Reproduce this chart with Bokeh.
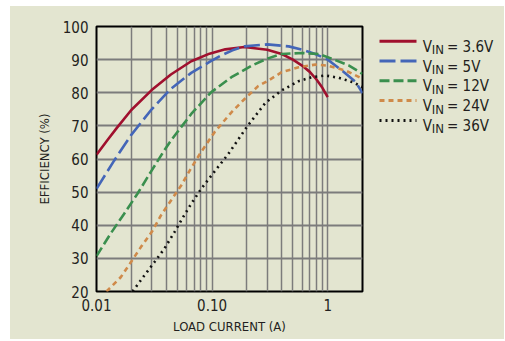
from bokeh.plotting import figure
from bokeh.layouts import row
from bokeh.models import Range1d, FixedTicker
from bokeh.core.properties import value
from bokeh.embed import file_html
from bokeh.resources import INLINE

# ---------------- data ----------------
vin_labels = ["3.6V", "5V", "12V", "24V", "36V"]

x_36 = [0.01, 0.0125, 0.015, 0.02, 0.03, 0.044, 0.066, 0.095, 0.13, 0.19, 0.3, 0.4, 0.5, 0.6, 0.7, 0.8, 0.9, 1.0]
y_36 = [61.3, 65.8, 69.4, 74.8, 80.8, 85.5, 89.5, 91.8, 93.1, 93.8, 93.0, 91.7, 90.0, 88.2, 86.3, 84.0, 81.5, 78.7]

x_5 = [0.01, 0.0142, 0.02, 0.03, 0.044, 0.066, 0.095, 0.12, 0.15, 0.19, 0.3, 0.46, 0.6, 0.78, 1.0, 1.33, 1.75, 2.0]
y_5 = [51.0, 59.5, 67.3, 75.0, 81.2, 86.0, 89.3, 91.3, 92.8, 94.0, 94.6, 94.0, 93.0, 91.7, 90.0, 86.7, 83.2, 79.9]

x_12 = [0.01, 0.0132, 0.0173, 0.0226, 0.0296, 0.0386, 0.0441, 0.066, 0.0985, 0.147, 0.22, 0.3, 0.4, 0.6, 0.84, 1.1, 1.53, 2.0]
y_12 = [30.7, 37.4, 43.4, 49.5, 56.2, 62.6, 65.6, 73.6, 80.2, 84.7, 88.2, 90.3, 91.7, 92.0, 91.7, 90.2, 88.2, 85.7]

x_24 = [0.0122, 0.0162, 0.0198, 0.0242, 0.0306, 0.036, 0.0441, 0.054, 0.066, 0.08, 0.105, 0.147, 0.192, 0.25, 0.3, 0.4, 0.56, 0.78, 1.0, 1.43, 2.0]
y_24 = [20.0, 24.3, 28.8, 33.4, 38.4, 42.9, 47.5, 52.0, 57.3, 62.0, 68.1, 74.1, 78.2, 82.0, 83.5, 86.2, 87.7, 88.5, 88.2, 86.7, 84.2]

x_36v = [0.0205, 0.0259, 0.0316, 0.0386, 0.0472, 0.056, 0.066, 0.0805, 0.0985, 0.138, 0.2, 0.29, 0.4, 0.56, 0.73, 0.96, 1.25, 1.65, 2.0]
y_36v = [20.0, 24.8, 28.8, 32.9, 37.9, 42.4, 46.5, 51.0, 55.0, 61.5, 69.7, 77.0, 80.7, 83.5, 84.7, 85.2, 84.5, 83.2, 81.7]

x_major_ticks = [0.01, 0.1, 1]
x_major_labels = ["0.01", "0.10", "1"]
x_minor_ticks = [0.02, 0.03, 0.04, 0.05, 0.06, 0.07, 0.08, 0.09,
                 0.2, 0.3, 0.4, 0.5, 0.6, 0.7, 0.8, 0.9, 2]
y_ticks = [20, 30, 40, 50, 60, 70, 80, 90, 100]

# ---------------- style ----------------
BG = "#e3e5d0"
FONT = "DejaVu Sans Condensed"
TXT = "#231f20"
GRID = "#7c7c7c"
series = [
    (x_36, y_36, "#a0102e", None, 2.6),
    (x_5, y_5, "#4466b8", "16 5", 2.6),
    (x_12, y_12, "#3a8f4e", "10 4", 2.6),
    (x_24, y_24, "#cf8a4a", "5 4", 2.6),
    (x_36v, y_36v, "#111111", "2 4", 2.6),
]

p = figure(title=None, x_axis_type="log", x_range=Range1d(0.01, 2.0), y_range=Range1d(20, 100),
           frame_width=266, frame_height=265,
           min_border_left=86, min_border_right=8, min_border_top=20, min_border_bottom=48,
           output_backend="svg", toolbar_location=None,
           background_fill_color=BG, border_fill_color=BG,
           outline_line_color="black", outline_line_width=2)

xt = FixedTicker(ticks=x_major_ticks, minor_ticks=x_minor_ticks)
p.xaxis.ticker = xt
p.xgrid.ticker = xt
p.xaxis.major_label_overrides = {t: s for t, s in zip(x_major_ticks, x_major_labels)}
yt = FixedTicker(ticks=y_ticks, minor_ticks=[])
p.yaxis.ticker = yt
p.ygrid.ticker = yt

p.xgrid.grid_line_color = GRID
p.xgrid.grid_line_width = 1.5
p.xgrid.minor_grid_line_color = GRID
p.xgrid.minor_grid_line_width = 1.5
p.ygrid.grid_line_color = GRID
p.ygrid.grid_line_width = 2

for ax in (p.xaxis, p.yaxis):
    ax.axis_line_color = None
    ax.major_tick_line_color = None
    ax.minor_tick_line_color = None
    ax.major_tick_out = 0
    ax.major_tick_in = 0
    ax.minor_tick_out = 0
    ax.major_label_text_font = FONT
    ax.major_label_text_font_size = "15px"
    ax.major_label_text_color = TXT
    ax.axis_label_text_font = FONT
    ax.axis_label_text_font_size = "13px"
    ax.axis_label_text_font_style = "normal"
    ax.axis_label_text_color = TXT

p.xaxis.axis_label = "LOAD CURRENT (A)"
p.yaxis.axis_label = "EFFICIENCY (%)"
p.xaxis.major_label_standoff = 7
p.xaxis.axis_label_standoff = 5
p.yaxis.major_label_standoff = 8
p.yaxis.axis_label_standoff = 8

for xs, ys, col, dash, w in series:
    kw = {} if dash is None else {"line_dash": dash}
    p.line(xs, ys, line_color=col, line_width=w, **kw)

# ---------------- legend panel (frame aligned with the plot frame) ----------------
LW, LH = 134, 265
q = figure(title=None, x_range=Range1d(0, LW), y_range=Range1d(LH, 0),
           frame_width=LW, frame_height=LH, min_border=0,
           x_axis_location=None, y_axis_location=None,
           output_backend="svg", toolbar_location=None,
           background_fill_color=BG, border_fill_color=BG, outline_line_color=None)
q.grid.visible = False

for i, ((xs, ys, col, dash, w), lab) in enumerate(zip(series, vin_labels)):
    yc = 14.7 + 19.8 * i
    kw = {} if dash is None else {"line_dash": dash}
    q.line([9, 46], [yc, yc], line_color=col, line_width=w + 0.4, **kw)
    q.text(x=[52.3], y=[yc + 5.5], text=["V"], text_font=value(FONT), text_font_size="15px",
           text_color=TXT, text_baseline="alphabetic", text_align="left")
    q.text(x=[61.3], y=[yc + 8.5], text=["IN"], text_font=value(FONT), text_font_size="13px",
           text_color=TXT, text_baseline="alphabetic", text_align="left")
    q.text(x=[76.5], y=[yc + 5.5], text=["= " + lab], text_font=value(FONT), text_font_size="15px",
           text_color=TXT, text_baseline="alphabetic", text_align="left")

layout = row(p, q, margin=(6, 0, 0, 10), styles={"background-color": BG})
open("out.html", "w").write(file_html(layout, INLINE))
